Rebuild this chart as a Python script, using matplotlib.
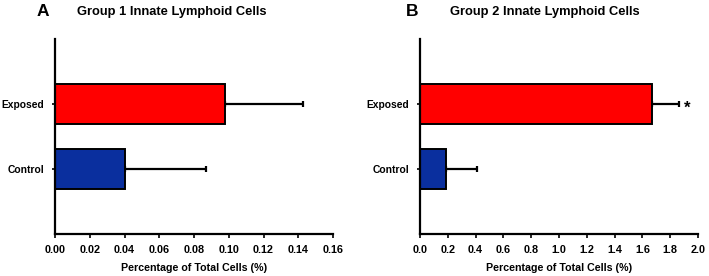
import matplotlib
matplotlib.use("Agg")
import matplotlib.pyplot as plt
import numpy as np

plt.rcParams['font.family'] = ['Liberation Sans', 'DejaVu Sans']
plt.rcParams['font.weight'] = 'bold'

categories = ["Control", "Exposed"]
colors = ["#0A2F9E", "#FF0000"]

g1_values = [0.040, 0.098]
g1_errors = [0.047, 0.045]
g1_ticks = [0.00, 0.02, 0.04, 0.06, 0.08, 0.10, 0.12, 0.14, 0.16]

g2_values = [0.19, 1.67]
g2_errors = [0.22, 0.19]
g2_ticks = [0.0, 0.2, 0.4, 0.6, 0.8, 1.0, 1.2, 1.4, 1.6, 1.8, 2.0]

fig = plt.figure(figsize=(7.09, 2.76), dpi=100)
W, H = 709, 276

def make_ax(left, right, values, errors, ticks, fmt, title, letter, title_cx, letter_x, star=False):
    ax = fig.add_axes([left / W, 1 - 234 / H, (right - left) / W, (234 - 39) / H])
    y = np.arange(len(categories))
    ax.barh(y, values, height=0.62, color=colors, edgecolor="black", linewidth=1.4, zorder=2)
    ax.errorbar(values, y, xerr=[np.zeros(len(values)), errors], fmt="none",
                ecolor="black", elinewidth=1.6, capsize=2, capthick=1.6, zorder=1)
    ax.set_xlim(ticks[0], ticks[-1])
    ax.set_ylim(-1.0, 2.0)
    ax.set_xticks(ticks)
    ax.set_xticklabels([fmt.format(t) for t in ticks], fontsize=7.8, fontweight='bold')
    ax.set_yticks(y)
    ax.set_yticklabels(categories, fontsize=7.4, fontweight='bold')
    for s in ["top", "right"]:
        ax.spines[s].set_visible(False)
    for s in ["left", "bottom"]:
        ax.spines[s].set_linewidth(1.6)
    ax.tick_params(axis="x", length=3, width=1.2, pad=5)
    ax.tick_params(axis="y", length=2, width=1.2, pad=6)
    ax.set_xlabel("Percentage of Total Cells (%)", fontsize=7.7, fontweight='bold', labelpad=6)
    fig.text(title_cx / W, 1 - 12 / H, title, fontsize=9.3, fontweight='bold', ha="center", va="center")
    fig.text(letter_x / W, 1 - 11 / H, letter, fontsize=12.5, fontweight='bold', ha="left", va="center")
    if star:
        ax.text(values[1] + errors[1] + (ticks[-1] - ticks[0]) * 0.018, 0.93, "*", fontsize=12,
                fontweight='bold', ha="left", va="center")
    return ax

make_ax(55, 333, g1_values, g1_errors, g1_ticks, "{:.2f}", "Group 1 Innate Lymphoid Cells", "A", 172, 37)
make_ax(420, 698, g2_values, g2_errors, g2_ticks, "{:.1f}", "Group 2 Innate Lymphoid Cells", "B", 545, 406, star=True)

fig.savefig("out.png", dpi=100)
